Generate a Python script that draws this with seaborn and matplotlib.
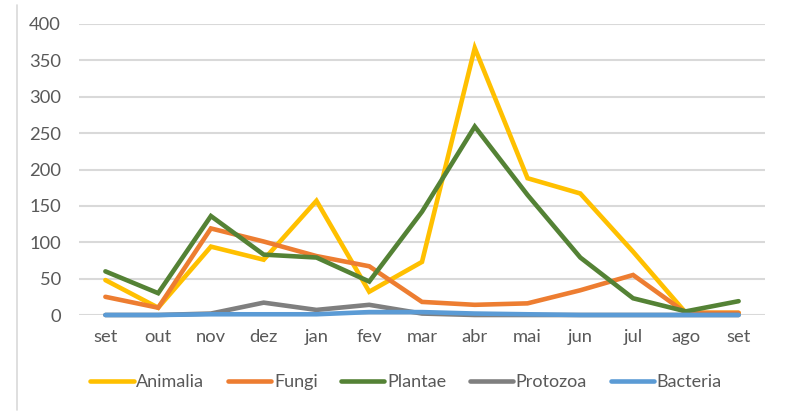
import matplotlib
matplotlib.use("Agg")
import matplotlib.pyplot as plt
import seaborn as sns
import pandas as pd
from matplotlib.lines import Line2D

months = ["set", "out", "nov", "dez", "jan", "fev", "mar", "abr", "mai", "jun", "jul", "ago", "set"]
animalia = [48, 10, 94, 76, 157, 32, 73, 367, 188, 167, 87, 3, 3]
fungi = [25, 10, 119, 101, 81, 67, 18, 14, 16, 34, 55, 3, 3]
plantae = [60, 30, 136, 83, 79, 46, 142, 259, 165, 79, 23, 5, 19]
protozoa = [0, 0, 2, 17, 7, 14, 2, 0, 0, 0, 0, 0, 0]
bacteria = [0, 0, 1, 1, 1, 4, 4, 2, 1, 0, 0, 0, 0]

series = {"Animalia": animalia, "Fungi": fungi, "Plantae": plantae,
          "Protozoa": protozoa, "Bacteria": bacteria}
colors = ["#FFC000", "#ED7D31", "#548235", "#7F7F7F", "#5B9BD5"]

rows = []
for name, vals in series.items():
    for i, v in enumerate(vals):
        rows.append({"idx": i, "value": v, "grupo": name})
df = pd.DataFrame(rows)

sns.set_style("white")
plt.rcParams["font.family"] = ["Lato", "DejaVu Sans"]

fig = plt.figure(figsize=(7.88, 4.12), dpi=100)
ax = fig.add_axes([79/788, 1-315/412, (765-79)/788, (315-24)/412])

sns.lineplot(data=df, x="idx", y="value", hue="grupo", hue_order=list(series.keys()),
             palette=colors, linewidth=3.3, ax=ax, legend=False, clip_on=False,
             solid_capstyle="round", solid_joinstyle="miter")

ax.set_xlim(-0.5, len(months) - 0.5)
ax.set_ylim(0, 400)
ax.set_yticks(range(0, 401, 50))
ax.set_xticks(range(len(months)))
ax.set_xticklabels(months)
ax.set_xlabel("")
ax.set_ylabel("")
for s in ax.spines.values():
    s.set_visible(False)
ax.grid(axis="y", color="#D9D9D9", linewidth=1.5)
ax.set_axisbelow(True)
ax.tick_params(axis="both", length=0, labelsize=13.2, labelcolor="#595959")
ax.tick_params(axis="y", pad=13)
ax.tick_params(axis="x", pad=10)

handles = [Line2D([0], [0], color=c, lw=3.3, solid_capstyle="round") for c in colors]
fig.legend(handles, list(series.keys()), loc="center", bbox_to_anchor=(406/788, 1-382/412),
           ncol=5, frameon=False, fontsize=13, handlelength=2.4, handletextpad=0.15,
           columnspacing=1.3, labelcolor="#595959")

fig.add_artist(Line2D([17/788, 17/788], [1-5/412, 1-410/412], color="#D9D9D9", lw=1.2,
                      transform=fig.transFigure))

fig.savefig("out.png", dpi=100)
